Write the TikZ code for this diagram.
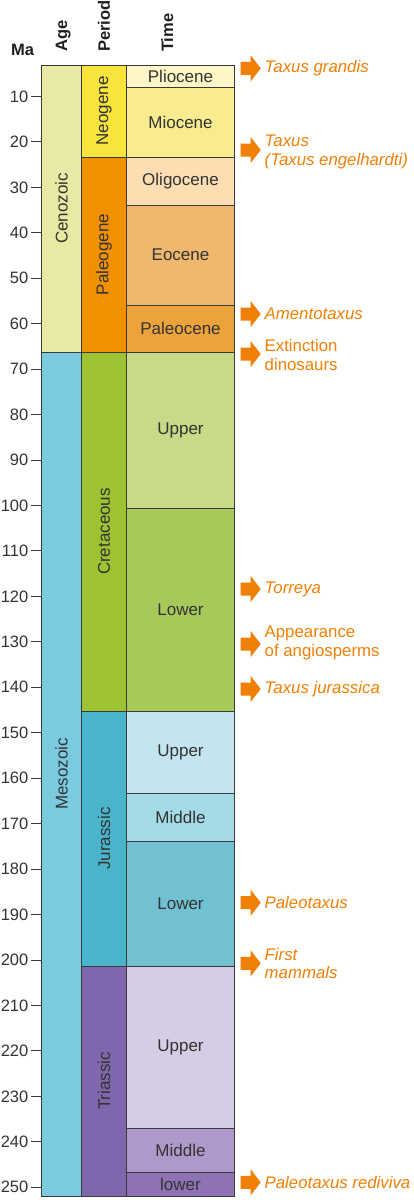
\documentclass[tikz,border=0pt]{standalone}
\usepackage{fontspec}
\setmainfont{Liberation Sans}
\definecolor{lineC}{HTML}{3A3A3A}
\definecolor{txtC}{HTML}{333333}
\definecolor{orgC}{HTML}{EF7F05}
\definecolor{cenoC}{HTML}{E8EAA4}
\definecolor{mesoC}{HTML}{7BCBE0}
\definecolor{neoC}{HTML}{F9E43C}
\definecolor{paleoC}{HTML}{F29100}
\definecolor{cretC}{HTML}{9DC332}
\definecolor{jurC}{HTML}{4AB4CB}
\definecolor{triC}{HTML}{8066AD}
\definecolor{plioC}{HTML}{FEF6C6}
\definecolor{mioC}{HTML}{F8EC8E}
\definecolor{oligC}{HTML}{FDDDB2}
\definecolor{eocC}{HTML}{F0B86E}
\definecolor{palC}{HTML}{EDA33B}
\definecolor{ukC}{HTML}{C6DA87}
\definecolor{lkC}{HTML}{A6C95A}
\definecolor{ujC}{HTML}{C4E5EF}
\definecolor{mjC}{HTML}{A5DAE7}
\definecolor{ljC}{HTML}{72C1D3}
\definecolor{utC}{HTML}{D5CCE5}
\definecolor{mtC}{HTML}{AF98CA}
\definecolor{ltC}{HTML}{8E72B4}
\begin{document}
\begin{tikzpicture}[x=1pt,y=-1pt,
  cell/.style={draw=lineC, line width=1pt},
  lbl/.style={text=txtC, font=\fontsize{17}{19}\selectfont, inner sep=0},
  numlbl/.style={text=txtC, font=\fontsize{16.5}{19}\selectfont, inner sep=0, anchor=east},
  vlbl/.style={lbl, rotate=90},
  hdr/.style={text=black!88, font=\bfseries\fontsize{16.5}{19}\selectfont, inner sep=0},
  note/.style={text=orgC, font=\fontsize{16.8}{18.5}\selectfont, anchor=west, align=left, inner sep=0},
  tickline/.style={draw=lineC, line width=1pt},
  orarrow/.pic={\fill[orgC] (0,-6.5) -- (10,-6.5) -- (10,-13) -- (20,0) -- (10,13) -- (10,6.5) -- (0,6.5) -- cycle;}
  ]
\useasboundingbox (0,0) rectangle (413,1200);

% header
\node[hdr, anchor=base west] (ma) at (11,55.5) {Ma};
\node[hdr, rotate=90, anchor=west] (age) at (63.3,52) {Age};
\node[hdr, rotate=90, anchor=west] (period) at (104,52) {Period};
\node[hdr, rotate=90, anchor=west] (time) at (167.3,52) {Time};

% Age column
\filldraw[cell, fill=cenoC] (41.7,65) rectangle (81.3,352);
\filldraw[cell, fill=mesoC] (41.7,352) rectangle (81.3,1196);
\node[vlbl] (ceno) at (61.5,208.5) {Cenozoic};
\node[vlbl] (meso) at (61.5,774) {Mesozoic};

% Period column
\filldraw[cell, fill=neoC] (81.3,65) rectangle (126.7,157);
\filldraw[cell, fill=paleoC] (81.3,157) rectangle (126.7,352);
\filldraw[cell, fill=cretC] (81.3,352) rectangle (126.7,711);
\filldraw[cell, fill=jurC] (81.3,711) rectangle (126.7,966);
\filldraw[cell, fill=triC] (81.3,966) rectangle (126.7,1196);
\node[vlbl] (neo) at (104,111) {Neogene};
\node[vlbl] (paleo) at (104,254.5) {Paleogene};
\node[vlbl] (cret) at (104,531.5) {Cretaceous};
\node[vlbl] (jur) at (104,838.5) {Jurassic};
\node[vlbl] (tri) at (104,1081) {Triassic};

% Time column
\filldraw[cell, fill=plioC] (126.7,65) rectangle (234.3,87.5);
\filldraw[cell, fill=mioC] (126.7,87.5) rectangle (234.3,157);
\filldraw[cell, fill=oligC] (126.7,157) rectangle (234.3,205);
\filldraw[cell, fill=eocC] (126.7,205) rectangle (234.3,305);
\filldraw[cell, fill=palC] (126.7,305) rectangle (234.3,352);
\filldraw[cell, fill=ukC] (126.7,352) rectangle (234.3,508);
\filldraw[cell, fill=lkC] (126.7,508) rectangle (234.3,711);
\filldraw[cell, fill=ujC] (126.7,711) rectangle (234.3,793);
\filldraw[cell, fill=mjC] (126.7,793) rectangle (234.3,841);
\filldraw[cell, fill=ljC] (126.7,841) rectangle (234.3,966);
\filldraw[cell, fill=utC] (126.7,966) rectangle (234.3,1128);
\filldraw[cell, fill=mtC] (126.7,1128) rectangle (234.3,1172.5);
\filldraw[cell, fill=ltC] (126.7,1172.5) rectangle (234.3,1196);
\node[lbl] (plio) at (180.5,76.2) {Pliocene};
\node[lbl] (mio) at (180.5,122.2) {Miocene};
\node[lbl] (olig) at (180.5,181) {Oligocene};
\node[lbl] (eoc) at (180.5,255) {Eocene};
\node[lbl] (pal) at (180.5,328.5) {Paleocene};
\node[lbl] (uk) at (180.5,430) {Upper};
\node[lbl] (lk) at (180.5,609.5) {Lower};
\node[lbl] (uj) at (180.5,752) {Upper};
\node[lbl] (mj) at (180.5,817) {Middle};
\node[lbl] (lj) at (180.5,903.5) {Lower};
\node[lbl] (ut) at (180.5,1047) {Upper};
\node[lbl] (mt) at (180.5,1150) {Middle};
\node[lbl] (lt) at (180.5,1184) {lower};

% ticks
\foreach \m in {10,20,...,250} {
  \pgfmathsetmacro\yy{51+4.545*\m}
  \draw[tickline] (31,\yy) -- (41.7,\yy);
  \node[numlbl] (t\m) at (28.5,\yy) {\m};
}

% events
\pic (a1) at (240.7,68.3) {orarrow};
\node[note] (n1) at (264.5,68.3) {\itshape Taxus grandis};
\pic (a2) at (240.7,150) {orarrow};
\node[note] (n2) at (264.5,152) {\itshape Taxus\\\itshape (Taxus engelhardti)};
\pic (a3) at (240.7,314) {orarrow};
\node[note] (n3) at (264.5,314) {\itshape Amentotaxus};
\pic (a4) at (240.7,354) {orarrow};
\node[note] (n4) at (264.5,355) {Extinction\\dinosaurs};
\pic (a5) at (240.7,589) {orarrow};
\node[note] (n5) at (264.5,589) {\itshape Torreya};
\pic (a6) at (240.7,644) {orarrow};
\node[note] (n6) at (264.5,643) {Appearance\\of angiosperms};
\pic (a7) at (240.7,689) {orarrow};
\node[note] (n7) at (264.5,689) {\itshape Taxus jurassica};
\pic (a8) at (240.7,902.7) {orarrow};
\node[note] (n8) at (264.5,902.7) {\itshape Paleotaxus};
\pic (a9) at (240.7,963.3) {orarrow};
\node[note] (n9) at (264.5,963.3) {\itshape First\\\itshape mammals};
\pic (a10) at (240.7,1182.3) {orarrow};
\node[note] (n10) at (264.5,1182.3) {\itshape Paleotaxus rediviva};
\end{tikzpicture}
\end{document}
